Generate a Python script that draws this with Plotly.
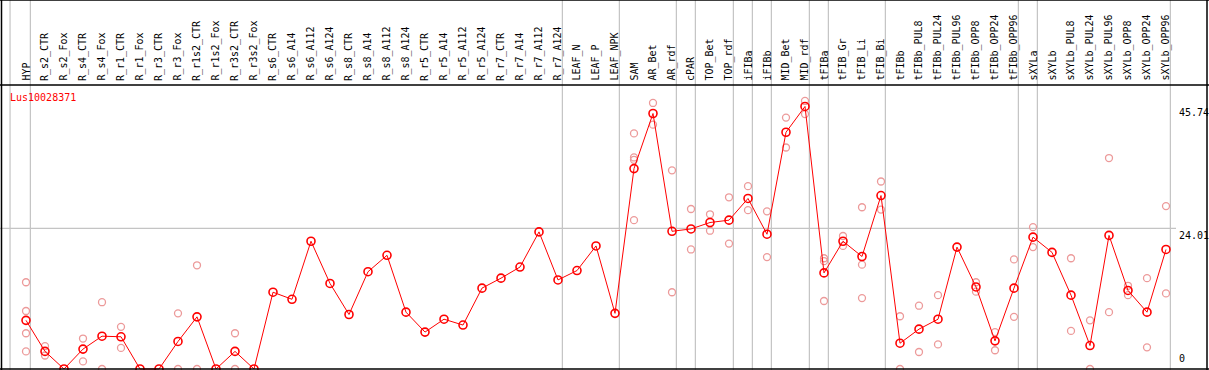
import plotly.graph_objects as go

categories = ["HYP", "R_s2_CTR", "R_s2_Fox", "R_s4_CTR", "R_s4_Fox", "R_r1_CTR", "R_r1_Fox",
              "R_r3_CTR", "R_r3_Fox", "R_r1s2_CTR", "R_r1s2_Fox", "R_r3s2_CTR", "R_r3s2_Fox",
              "R_s6_CTR", "R_s6_A14", "R_s6_A112", "R_s6_A124", "R_s8_CTR", "R_s8_A14",
              "R_s8_A112", "R_s8_A124", "R_r5_CTR", "R_r5_A14", "R_r5_A112", "R_r5_A124",
              "R_r7_CTR", "R_r7_A14", "R_r7_A112", "R_r7_A124", "LEAF_N", "LEAF_P", "LEAF_NPK",
              "SAM", "AR_Bet", "AR_rdf", "cPAR", "TOP_Bet", "TOP_rdf", "iFIBa", "iFIBb",
              "MID_Bet", "MID_rdf", "tFIBa", "tFIB_Gr", "tFIB_Li", "tFIB_Bi", "tFIBb",
              "tFIBb_PUL8", "tFIBb_PUL24", "tFIBb_PUL96", "tFIBb_OPP8", "tFIBb_OPP24",
              "tFIBb_OPP96", "sXYLa", "sXYLb", "sXYLb_PUL8", "sXYLb_PUL24", "sXYLb_PUL96",
              "sXYLb_OPP8", "sXYLb_OPP24", "sXYLb_OPP96"]

means = [8.3, 3.0, 0, 3.4, 5.6, 5.5, 0, 0, 4.7, 8.9, 0, 3.0, 0,
         13.1, 11.9, 21.8, 14.6, 9.3, 16.6, 19.4, 9.7, 6.3, 8.5, 7.5, 13.8,
         15.5, 17.4, 23.4, 15.2, 16.8, 21.0, 9.5,
         34.2, 43.6, 23.5, 23.9, 25.0, 25.4, 29.1, 23.0, 40.4, 44.8,
         16.4, 21.8, 19.2, 29.6, 4.4, 6.8, 8.5, 20.8, 14.0, 4.8, 13.8,
         22.5, 19.9, 12.6, 4.0, 22.8, 13.4, 9.7, 20.4]

replicates = [
    [14.8, 9.9, 6.1, 3.0], [3.9, 2.3], [], [5.2, 1.3], [11.4, 0.0], [7.2, 3.6], [], [],
    [9.5, 0.0], [17.7, 0.0], [], [6.1, 0.0], [],
    [], [], [], [], [], [], [], [], [], [], [], [], [], [], [], [], [], [], [],
    [40.2, 36.1, 35.7, 25.4], [45.4, 41.7], [33.9, 13.1], [27.3, 20.4], [26.4, 23.6],
    [29.3, 21.4], [31.2, 27.1], [26.9, 19.1], [42.9, 37.8], [45.74, 43.5],
    [18.9, 18.4, 11.6], [22.7, 21.0], [27.6, 17.8, 12.1], [32.0, 27.2], [9.0, 0.0],
    [10.8, 2.9], [12.6, 4.2], [], [14.8, 13.2], [6.3, 3.2], [18.7, 8.9],
    [24.2, 20.8], [], [18.9, 6.5], [8.3, 0.0], [36.0, 9.7], [14.2, 12.6], [15.5, 3.7],
    [27.8, 12.9],
]

group_ends = [0, 28, 31, 34, 35, 37, 38, 39, 41, 42, 45, 52, 53, 60]
tick_values = [0, 24.01, 45.74]
tick_labels = ["0", "24.01", "45.74"]
gene_name = "Lus10028371"

W, H = 1209, 370
FONT = "DejaVu Sans Mono"
RED = "#ff0000"
PINK = "#ec9a9a"
GRID = "#c4c4c4"

x_idx = list(range(len(categories)))
rx, ry = [], []
for i, reps in enumerate(replicates):
    for v in reps:
        rx.append(i)
        ry.append(v)

fig = go.Figure()
fig.add_trace(go.Scatter(x=rx, y=ry, mode="markers",
                         marker=dict(symbol="circle-open", size=7, color=PINK,
                                     line=dict(width=1.3, color=PINK)),
                         hoverinfo="skip", showlegend=False))
fig.add_trace(go.Scatter(x=x_idx, y=means, mode="lines+markers",
                         line=dict(color=RED, width=1),
                         marker=dict(symbol="circle-open", size=8, color=RED,
                                     line=dict(width=1.6, color=RED)),
                         text=categories, showlegend=False))

# axis scaling: column i at 26 + 19*i px ; value 0 at y=369 px, 5.86 px per unit
x0 = -26 / 19
x1 = x0 + W / 19
ppu = 5.86
y0 = -(H - 369) / ppu
y1 = 369 / ppu

shapes = []
for g in [-0.84] + [e + 0.23 for e in group_ends]:
    shapes.append(dict(type="line", xref="x", yref="paper", x0=g, x1=g, y0=0, y1=1,
                       line=dict(color=GRID, width=1.2), layer="below"))
shapes.append(dict(type="line", xref="paper", yref="y", x0=0, x1=1176 / W,
                   y0=tick_values[1], y1=tick_values[1],
                   line=dict(color=GRID, width=1.2), layer="below"))
blk = dict(color="black", width=1.5)
shapes += [
    dict(type="line", xref="paper", yref="paper", x0=0, x1=1, y0=1, y1=1, line=blk),
    dict(type="line", xref="paper", yref="paper", x0=0, x1=1, y0=1 - 85 / H, y1=1 - 85 / H, line=blk),
    dict(type="line", xref="paper", yref="paper", x0=0, x1=1, y0=1 - 369 / H, y1=1 - 369 / H, line=blk),
    dict(type="line", xref="paper", yref="paper", x0=1.5 / W, x1=1.5 / W, y0=0, y1=1, line=blk),
    dict(type="line", xref="paper", yref="paper", x0=1207 / W, x1=1207 / W, y0=0, y1=1, line=blk),
]

annotations = []
for i, c in enumerate(categories):
    annotations.append(dict(x=i - 0.02, xref="x", y=1 - 83 / H, yref="paper",
                            text=c, textangle=-90, showarrow=False,
                            xanchor="center", yanchor="bottom",
                            font=dict(family=FONT, size=10, color="black")))
annotations.append(dict(x=8 / W, xref="paper", y=1 - 97 / H, yref="paper", text=gene_name,
                        showarrow=False, xanchor="left", yanchor="middle",
                        font=dict(family=FONT, size=10, color=RED)))
for v, t in zip(tick_values, tick_labels):
    if v == 0:
        ya, ys = "bottom", 3
    elif v == max(tick_values):
        ya, ys = "top", -4
    else:
        ya, ys = "top", 0
    annotations.append(dict(x=1177 / W, xref="paper", y=v, yref="y", text=t,
                            showarrow=False, xanchor="left", yanchor=ya, yshift=ys,
                            font=dict(family=FONT, size=10, color="black")))

fig.update_layout(
    width=W, height=H, autosize=False,
    margin=dict(l=0, r=0, t=0, b=0, pad=0),
    paper_bgcolor="white", plot_bgcolor="white",
    xaxis=dict(range=[x0, x1], visible=False, fixedrange=True),
    yaxis=dict(range=[y0, y1], visible=False, fixedrange=True),
    shapes=shapes, annotations=annotations,
)

fig.write_html("out.html", config={"displayModeBar": False},
               post_script="document.body.style.margin='0px';document.body.style.overflow='hidden';")
